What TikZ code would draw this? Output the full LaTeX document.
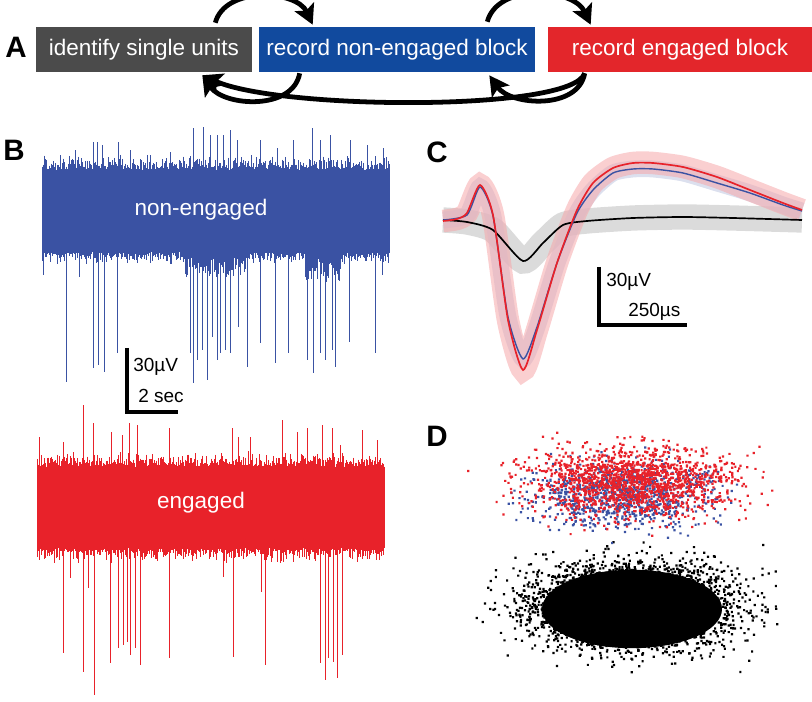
\documentclass[tikz,border=0pt]{standalone}
\usepackage{fontspec}
\setmainfont{Liberation Sans}
\usetikzlibrary{arrows.meta}
\usetikzlibrary{calc}

\definecolor{boxgray}{HTML}{4B4B4B}
\definecolor{boxblue}{HTML}{114A9E}
\definecolor{boxred}{HTML}{E3262B}
\definecolor{trblue}{HTML}{3A52A3}
\definecolor{trred}{HTML}{E8222A}

\tikzset{
  block/.style={rectangle,minimum height=1.125cm,inner sep=0pt,text=white,font=\fontsize{16}{18}\selectfont},
  loop/.style={line width=3.4pt,-{Stealth[length=14pt,width=15pt,inset=3pt]}},
  panel/.style={font=\fontsize{21}{24}\selectfont\bfseries},
  scalebar/.style={line width=2.2pt},
  barlabel/.style={font=\fontsize{13.5}{15}\selectfont,inner sep=0pt,anchor=west},
  trace/.style={line width=0.5pt},
  tracelabel/.style={text=white,font=\fontsize{16}{18}\selectfont}
}

\begin{document}
\begin{tikzpicture}[x=0.025cm,y=0.025cm]
\useasboundingbox (0,0) rectangle (812,-702);
\pgfmathsetseed{7}

\node(pA) at (16,-47) [panel]{A};
\node(pB) at (14,-150) [panel]{B};
\node(pC) at (437,-152) [panel]{C};
\node(pD) at (437,-436) [panel]{D};

\node(U) at (144,-49.5) [block,fill=boxgray,minimum width=5.4cm]{identify single units};
\node(N) at (397,-49.5) [block,fill=boxblue,minimum width=6.9cm]{record non-engaged block};
\node(E) at (680,-49.5) [block,fill=boxred,minimum width=6.6cm]{record engaged block};

\draw[loop] ($(U.north east)+(-37,4)$) to[out=75,in=115] ($(N.north west)+(54,2)$);
\draw[loop] ($(N.north east)+(-48,5)$) to[out=75,in=115] ($(E.north west)+(43,2)$);
\draw[loop] ($(N.south west)+(41,-1)$) to[out=-100,in=-55] ($(U.south east)+(-50,-3)$);
\draw[loop] ($(E.south west)+(37,-1)$) to[out=-100,in=-55] ($(N.south east)+(-46,-3)$);
\draw[loop] ($(E.south west)+(37,-1)$) .. controls (572,-112) and (280,-110) .. ($(U.south east)+(-50,-3)$);

% non-engaged trace
\fill[trblue] (42,-170) rectangle (389,-252);
\draw[trblue,trace] foreach \i in {0,...,694} {({42+\i/2},{-170+16*rnd*rnd}) -- ({42+\i/2},{-252-14*rnd*rnd})};
\draw[trblue,trace] foreach \i in {0,...,60} {({185+\i},-252) -- ({185+\i},{-258-20*rnd})};
\draw[trblue,trace] foreach \i in {0,...,35} {({305+\i},-252) -- ({305+\i},{-258-24*rnd})};
\foreach \x/\t in {60/155,75/150,93/142,97/142,102/145,118/142,130/150,150/155,170/152,193/128,203/127,210/135,217/135,223/135,230/130,237/140,260/140,277/148,293/140,312/128,320/140,330/135,350/140,367/145,383/148}
  \draw[trblue,trace] (\x,-170) -- (\x,-\t);
\foreach \x/\b in {43/275,66/382,79/277,93/368,98/365,104/372,117/353,190/353,193/383,197/360,202/350,207/380,212/337,217/360,220/353,225/350,230/353,238/327,247/367,260/343,275/363,288/353,307/360,313/373,320/353,325/360,332/350,335/367,349/342,375/353,382/275}
  \draw[trblue,trace] (\x,-252) -- (\x,-\b);
\node(NE) at (201,-210) [tracelabel]{non-engaged};

\draw[scalebar] (127,-348) -- (127,-412) -- (178,-412);
\node(vB) at (133,-367) [barlabel]{30µV};
\node(tB) at (138,-396) [barlabel]{2 sec};

% engaged trace
\fill[trred] (37,-467) rectangle (384,-548);
\draw[trred,trace] foreach \i in {0,...,694} {({37+\i/2},{-467+16*rnd*rnd}) -- ({37+\i/2},{-548-16*rnd*rnd})};
\foreach \x/\t in {39/437,63/442,83/405,93/423,111/432,122/435,129/423,137/425,169/428,232/428,238/437,250/437,282/420,297/432,307/428,322/425,332/428,340/445,362/430,377/440}
  \draw[trred,trace] (\x,-467) -- (\x,-\t);
\foreach \x/\b in {63/653,70/578,83/672,88/588,94/695,110/663,118/648,123/645,127/642,130/655,135/648,140/665,169/658,223/577,233/657,261/592,265/665,320/663,325/680,328/658,333/662,337/678,342/655}
  \draw[trred,trace] (\x,-548) -- (\x,-\b);
\node(EN) at (201,-503) [tracelabel]{engaged};

% waveforms
\draw[gray!40,line width=18pt,opacity=0.7] plot[smooth,tension=0.4] coordinates {(443,-220) (467,-222) (493,-230) (523,-261) (543,-243) (563,-225) (587,-221) (633,-218) (683,-217) (733,-218) (802,-220)};
\draw[trblue!30,line width=12pt,opacity=0.6] plot[smooth,tension=0.4] coordinates {(443,-220) (467,-215) (480,-187) (493,-216) (508,-317) (523,-359) (537,-327) (557,-263) (577,-213) (593,-190) (613,-173) (633,-169) (653,-169) (683,-173) (717,-183) (750,-193) (783,-205) (802,-211)};
\draw[trred!40,line width=16pt,opacity=0.55] plot[smooth,tension=0.4] coordinates {(443,-221) (457,-219) (467,-213) (480,-185) (493,-215) (508,-320) (523,-370) (537,-330) (557,-263) (577,-210) (593,-183) (613,-168) (633,-163) (653,-163) (683,-167) (717,-177) (750,-190) (783,-203) (802,-210)};
\draw[black,line width=1.2pt] plot[smooth,tension=0.4] coordinates {(443,-220) (467,-222) (493,-230) (523,-261) (543,-243) (563,-225) (587,-221) (633,-218) (683,-217) (733,-218) (802,-220)};
\draw[trblue,line width=1pt] plot[smooth,tension=0.4] coordinates {(443,-220) (467,-215) (480,-187) (493,-216) (508,-317) (523,-359) (537,-327) (557,-263) (577,-213) (593,-190) (613,-173) (633,-169) (653,-169) (683,-173) (717,-183) (750,-193) (783,-205) (802,-211)};
\draw[trred,line width=1.2pt] plot[smooth,tension=0.4] coordinates {(443,-221) (457,-219) (467,-213) (480,-185) (493,-215) (508,-320) (523,-370) (537,-330) (557,-263) (577,-210) (593,-183) (613,-168) (633,-163) (653,-163) (683,-167) (717,-177) (750,-190) (783,-203) (802,-210)};

\draw[scalebar] (599,-267) -- (599,-325) -- (687,-325);
\node(vC) at (606,-282) [barlabel]{30µV};
\node(tC) at (628,-312) [barlabel]{250µs};

% clusters
\fill[black] (632,-609) ellipse [x radius=2.25cm,y radius=0.98cm];
\foreach \k in {1,...,7}
  \fill[black] foreach \i in {1,...,500} {({630+45*(rand+rand+rand+rand)},{-607+19*(rand+rand+rand+rand)}) rectangle +(2.2,2.2)};
\foreach \k in {1,...,2}
  \fill[trblue] foreach \i in {1,...,450} {({622+40*(rand+rand+rand+rand)},{-496+14*(rand+rand+rand+rand)}) rectangle +(2.2,2.2)};
\foreach \k in {1,...,4}
  \fill[trred] foreach \i in {1,...,400} {({632+44*(rand+rand+rand+rand)},{-484+15*(rand+rand+rand+rand)}) rectangle +(2.2,2.2)};
\end{tikzpicture}
\end{document}
